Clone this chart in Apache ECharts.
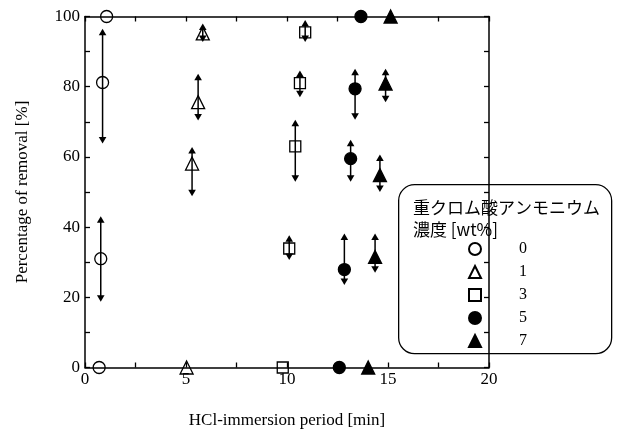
<!DOCTYPE html>
<html><head><meta charset="utf-8">
<script src="https://cdn.jsdelivr.net/npm/echarts@6/dist/echarts.min.js"></script>
<style>html,body{margin:0;padding:0;background:#fff}#c{width:617px;height:439px}</style>
</head><body><div id="c"></div>
<script>
// [x (min), removal (%), errLow, errHigh]
const conc0 = [[0.70, 0, null, null], [0.78, 31, 18.7, 43.1], [0.87, 81.2, 63.8, 96.5], [1.07, 100, null, null]];
const conc1 = [[5.03, 0, null, null], [5.30, 58.1, 48.8, 62.8], [5.60, 75.6, 70.4, 83.7], [5.83, 95.2, 92.7, 98.0]];
const conc3 = [[9.79, 0, null, null], [10.11, 33.9, 30.6, 37.7], [10.41, 63.0, 52.9, 70.6], [10.64, 81.0, 77.0, 84.6], [10.90, 95.5, 92.7, 99.0]];
const conc5 = [[12.59, 0, null, null], [12.84, 27.9, 23.5, 38.2], [13.15, 59.5, 52.9, 64.9], [13.37, 79.4, 70.6, 85.1], [13.66, 100, null, null]];
const conc7 = [[14.02, 0, null, null], [14.36, 31.5, 27.0, 38.2], [14.60, 54.8, 50.0, 60.7], [14.88, 80.9, 75.6, 85.1], [15.13, 100, null, null]];
const seriesNames = ['0', '1', '3', '5', '7'];
const xTicks = [0, 5, 10, 15, 20];
const yTicks = [0, 20, 40, 60, 80, 100];

const allSets = [conc0, conc1, conc3, conc5, conc7];
const symbols = [
  {symbol: 'circle', size: 12, fill: 'rgba(0,0,0,0)'},
  {symbol: 'triangle', size: 13, fill: 'rgba(0,0,0,0)'},
  {symbol: 'rect', size: 11, fill: 'rgba(0,0,0,0)'},
  {symbol: 'circle', size: 12, fill: '#000'},
  {symbol: 'triangle', size: 13, fill: '#000'}
];
const errData = [];
allSets.forEach(s => s.forEach(p => { if (p[2] != null) errData.push([p[0], p[2], p[3]]); }));

const serif = '"Liberation Serif", "DejaVu Serif", serif';
const tickStyle = {color: '#000', width: 1.3};
const chart = echarts.init(document.getElementById('c'));
const scatterSeries = allSets.map((s, i) => ({
  name: seriesNames[i], type: 'scatter', clip: false, z: 3,
  symbol: symbols[i].symbol, symbolSize: symbols[i].size,
  itemStyle: {color: symbols[i].fill, borderColor: '#000', borderWidth: 1.3, opacity: 1},
  data: s.map(p => [p[0], p[1]])
}));
chart.setOption({
  animation: false,
  backgroundColor: '#fff',
  grid: {left: 85, right: 128, top: 16.5, bottom: 71.5},
  xAxis: [{
    type: 'value', min: xTicks[0], max: xTicks[xTicks.length - 1], interval: 5, position: 'bottom',
    name: 'HCl-immersion period [min]', nameLocation: 'middle', nameGap: 45,
    nameTextStyle: {fontFamily: serif, fontSize: 17, color: '#000'},
    axisLine: {onZero: false, lineStyle: {color: '#000', width: 1.5}},
    axisTick: {inside: true, length: 5, lineStyle: tickStyle},
    minorTick: {show: true, splitNumber: 2, length: 5, lineStyle: tickStyle},
    axisLabel: {fontFamily: serif, fontSize: 17, color: '#000', margin: 4},
    splitLine: {show: false}
  }, {
    type: 'value', min: 0, max: 20, interval: 2.5, position: 'top',
    axisLine: {onZero: false, lineStyle: {color: '#000', width: 1.5}},
    axisTick: {inside: true, length: 5, lineStyle: tickStyle},
    axisLabel: {show: false}, splitLine: {show: false}
  }],
  yAxis: [{
    type: 'value', min: 0, max: 100, interval: 20, position: 'left',
    name: 'Percentage of removal [%]', nameLocation: 'middle', nameGap: 54, nameRotate: 90,
    nameTextStyle: {fontFamily: serif, fontSize: 17, color: '#000'},
    axisLine: {show: true, onZero: false, lineStyle: {color: '#000', width: 1.5}},
    axisTick: {show: true, inside: true, length: 5, lineStyle: tickStyle},
    minorTick: {show: true, splitNumber: 2, length: 5, lineStyle: tickStyle},
    axisLabel: {fontFamily: serif, fontSize: 17, color: '#000', margin: 5},
    splitLine: {show: false}
  }, {
    type: 'value', min: 0, max: 100, interval: 10, position: 'right',
    axisLine: {show: true, onZero: false, lineStyle: {color: '#000', width: 1.5}},
    axisTick: {show: true, inside: true, length: 5, lineStyle: tickStyle},
    axisLabel: {show: false}, splitLine: {show: false}
  }],
  legend: {
    data: seriesNames, orient: 'vertical', left: 463, top: 236,
    itemWidth: 12, itemHeight: 12, itemGap: 7,
    textStyle: {fontFamily: serif, fontSize: 16, color: '#000', padding: [0, 0, 0, 33]},
    selectedMode: false
  },
  graphic: [
    {type: 'rect', left: 398, top: 184, z: 0,
     shape: {width: 213, height: 169, r: 16},
     style: {fill: '#fff', stroke: '#000', lineWidth: 1.3}},
    {type: 'text', left: 413, top: 199, z: 1,
     style: {text: '重クロム酸アンモニウム', font: '17px "Noto Sans CJK JP"', fill: '#000'}},
    {type: 'text', left: 413, top: 221, z: 1,
     style: {text: '濃度 [wt%]', font: '17px "Noto Sans CJK JP"', fill: '#000'}}
  ],
  series: [{
    type: 'custom', z: 4, silent: true,
    encode: {x: 0, y: [1, 2]},
    data: errData,
    renderItem: function (params, api) {
      const x = api.value(0), lo = api.value(1), hi = api.value(2);
      const t = api.coord([x, hi]), b = api.coord([x, lo]);
      const h = 6.5, w = 3.8;
      return {type: 'group', children: [
        {type: 'line', shape: {x1: t[0], y1: t[1] + h - 1, x2: b[0], y2: b[1] - h + 1}, style: {stroke: '#000', lineWidth: 1.5}},
        {type: 'polygon', shape: {points: [[t[0], t[1]], [t[0] - w, t[1] + h], [t[0] + w, t[1] + h]]}, style: {fill: '#000'}},
        {type: 'polygon', shape: {points: [[b[0], b[1]], [b[0] - w, b[1] - h], [b[0] + w, b[1] - h]]}, style: {fill: '#000'}}
      ]};
    }
  }].concat(scatterSeries)
});
</script></body></html>
